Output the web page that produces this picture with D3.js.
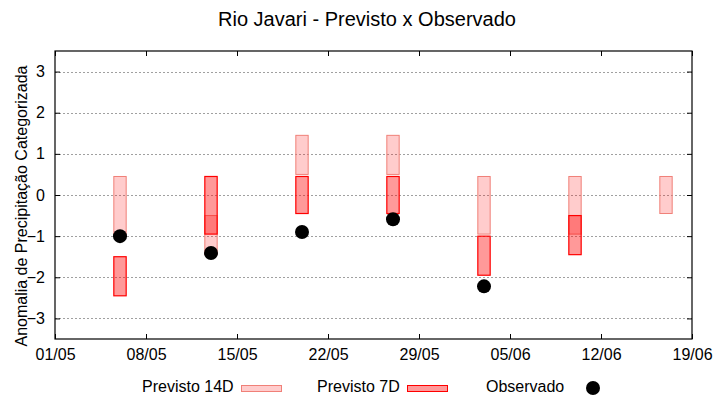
<!DOCTYPE html>
<html>
<head>
<meta charset="utf-8">
<script src="https://cdn.jsdelivr.net/npm/d3@7"></script>
<style>
  body { margin: 0; background: #fff; }
  text { font-family: "Liberation Sans", Arial, sans-serif; fill: #000; }
</style>
</head>
<body>
<div id="chart"></div>
<script>
// Dados
const datas = ["06/05", "13/05", "20/05", "27/05", "03/06", "10/06", "17/06"];
const prev14Min = [-0.95, -1.45, 0.5, 0.5, -0.95, -0.95, -0.45];
const prev14Max = [0.45, -0.5, 1.45, 1.45, 0.45, 0.45, 0.45];
const prev7Min = [-2.45, -0.95, -0.45, -0.45, -1.95, -1.45, null];
const prev7Max = [-1.5, 0.45, 0.45, 0.45, -1.0, -0.5, null];
const observado = [-1.0, -1.41, -0.9, -0.59, -2.22, null, null];
const tickLabels = ["01/05", "08/05", "15/05", "22/05", "29/05", "05/06", "12/06", "19/06"];
const yTicks = [-3, -2, -1, 0, 1, 2, 3];

const parseData = s => {
    const [d, m] = s.split("/").map(Number);
    return new Date(Date.UTC(2024, m - 1, d));
};

const width = 720, height = 400;
const margin = { top: 51, right: 28, bottom: 61, left: 55 };
const w = 692 - margin.left, h = 339 - margin.top;

const svg = d3.select("#chart").append("svg")
    .attr("width", width)
    .attr("height", height);

const g = svg.append("g")
    .attr("transform", `translate(${margin.left},${margin.top})`);

const x = d3.scaleUtc()
    .domain([parseData(tickLabels[0]), parseData(tickLabels[tickLabels.length - 1])])
    .range([0, w]);

const y = d3.scaleLinear()
    .domain([-3.5, 3.5])
    .range([h, 0]);

// Grade horizontal pontilhada
g.selectAll(".grid")
    .data(yTicks)
    .enter()
    .append("line")
    .attr("x1", 0)
    .attr("x2", w)
    .attr("y1", d => Math.round(y(d)) + 0.5)
    .attr("y2", d => Math.round(y(d)) + 0.5)
    .attr("stroke", "#a0a0a0")
    .attr("stroke-width", 1)
    .attr("stroke-dasharray", "2,2");

// Eixos (ticks para dentro, espelhados)
const tickVals = tickLabels.map(parseData);
const xAxis = g.append("g")
    .attr("transform", `translate(0,${h})`)
    .call(d3.axisBottom(x).tickValues(tickVals).tickSize(-5).tickPadding(10)
        .tickFormat((d, i) => tickLabels[i]));
const xTop = g.append("g")
    .call(d3.axisTop(x).tickValues(tickVals).tickSize(-5).tickFormat(""));
const yAxis = g.append("g")
    .call(d3.axisLeft(y).tickValues(yTicks).tickSize(-5).tickPadding(10)
        .tickFormat(d3.format("d")));
const yRight = g.append("g")
    .attr("transform", `translate(${w},0)`)
    .call(d3.axisRight(y).tickValues(yTicks).tickSize(-5).tickFormat(""));

[xAxis, xTop, yAxis, yRight].forEach(a => {
    a.select(".domain").remove();
    a.selectAll("line").attr("stroke", "#000");
    a.selectAll("text").style("font-size", "16px")
        .style("font-family", "Liberation Sans, Arial, sans-serif");
});

g.append("rect")
    .attr("width", w)
    .attr("height", h)
    .attr("fill", "none")
    .attr("stroke", "#000")
    .attr("stroke-width", 1.2);

const meioDia = 0.475 * 24 * 3600 * 1000;
const barX = d => x(new Date(parseData(d).getTime() - meioDia));
const barW = d => x(new Date(parseData(d).getTime() + meioDia)) - barX(d);

// Previsto 14D
g.selectAll(".bar14")
    .data(datas.map((d, i) => ({ d, lo: prev14Min[i], hi: prev14Max[i] })))
    .enter()
    .append("rect")
    .attr("class", "bar14")
    .attr("x", e => barX(e.d))
    .attr("width", e => barW(e.d))
    .attr("y", e => y(e.hi))
    .attr("height", e => y(e.lo) - y(e.hi))
    .attr("fill", "rgba(255,0,0,0.2)")
    .attr("stroke", "#f08078")
    .attr("stroke-width", 1);

// Previsto 7D
g.selectAll(".bar7")
    .data(datas.map((d, i) => ({ d, lo: prev7Min[i], hi: prev7Max[i] })).filter(e => e.lo !== null))
    .enter()
    .append("rect")
    .attr("class", "bar7")
    .attr("x", e => barX(e.d))
    .attr("width", e => barW(e.d))
    .attr("y", e => y(e.hi))
    .attr("height", e => y(e.lo) - y(e.hi))
    .attr("fill", "rgba(255,0,0,0.4)")
    .attr("stroke", "#ff0000")
    .attr("stroke-width", 1.2);

// Observado
g.selectAll(".obs")
    .data(datas.map((d, i) => ({ d, v: observado[i] })).filter(e => e.v !== null))
    .enter()
    .append("circle")
    .attr("cx", e => x(parseData(e.d)))
    .attr("cy", e => y(e.v))
    .attr("r", 7)
    .attr("fill", "#000");

// Título
svg.append("text")
    .attr("x", 367)
    .attr("y", 26)
    .attr("text-anchor", "middle")
    .style("font-size", "20px")
    .text("Rio Javari - Previsto x Observado");

// Rótulo do eixo Y
svg.append("text")
    .attr("transform", "translate(27,206) rotate(-90)")
    .attr("text-anchor", "middle")
    .style("font-size", "16px")
    .text("Anomalia de Precipitação Categorizada");

// Legenda
const legend = svg.append("g");
legend.append("text").attr("x", 142).attr("y", 392).style("font-size", "16px").text("Previsto 14D");
legend.append("rect").attr("x", 241.5).attr("y", 385.5).attr("width", 40).attr("height", 6)
    .attr("fill", "rgba(255,0,0,0.2)").attr("stroke", "#f08078");
legend.append("text").attr("x", 317).attr("y", 392).style("font-size", "16px").text("Previsto 7D");
legend.append("rect").attr("x", 407.5).attr("y", 385.5).attr("width", 40).attr("height", 6)
    .attr("fill", "rgba(255,0,0,0.4)").attr("stroke", "#ff0000");
legend.append("text").attr("x", 486).attr("y", 392).style("font-size", "16px").text("Observado");
legend.append("circle").attr("cx", 593).attr("cy", 388).attr("r", 7).attr("fill", "#000");
</script>
</body>
</html>
